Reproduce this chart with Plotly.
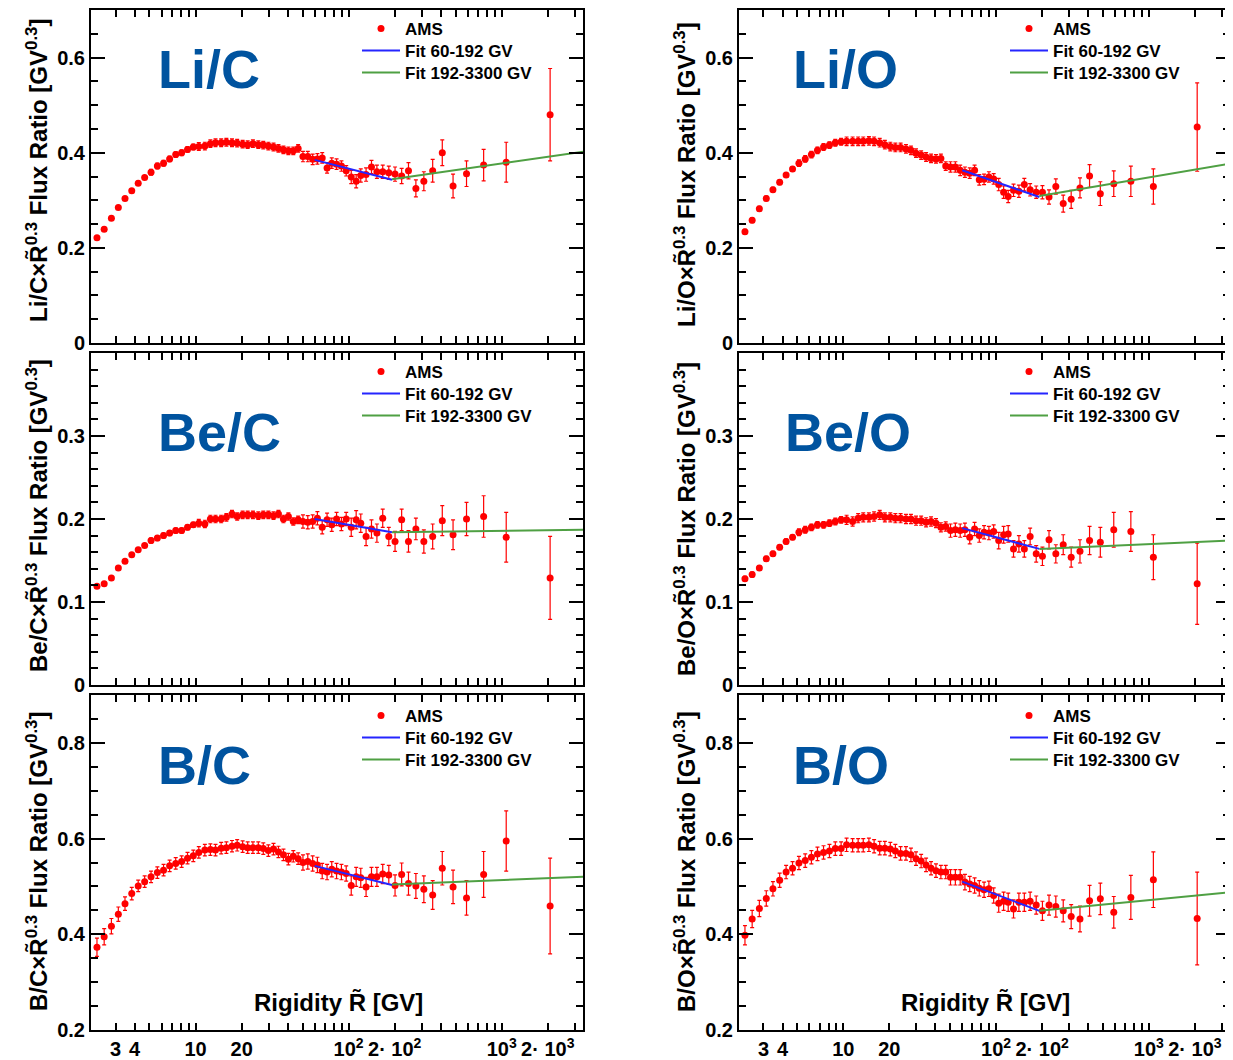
import plotly.graph_objects as go

W, H = 1233, 1060

# ---------------- data ----------------
rigidity = [2.27, 2.53, 2.82, 3.13, 3.46, 3.83, 4.22, 4.65, 5.12, 5.63,
            6.18, 6.77, 7.42, 8.11, 8.86, 9.67, 10.5, 11.5, 12.5, 13.5,
            14.7, 15.9, 17.3, 18.7, 20.3, 21.9, 23.7, 25.7, 27.7, 29.9,
            32.3, 34.8, 37.5, 40.4, 43.5, 46.8, 50.3, 54.1, 58.2, 62.5,
            67.2, 72.3, 77.6, 83.4, 89.7, 96.4, 104, 112, 120, 130,
            141, 153, 167, 183, 201, 222, 246, 275, 310, 354,
            409, 481, 589, 762, 1070, 2071]

li_c = [0.221, 0.239, 0.262, 0.285, 0.304, 0.320, 0.336, 0.348, 0.359, 0.372,
        0.378, 0.387, 0.396, 0.400, 0.407, 0.412, 0.413, 0.414, 0.419, 0.421,
        0.421, 0.422, 0.421, 0.420, 0.418, 0.417, 0.419, 0.417, 0.416, 0.414,
        0.412, 0.409, 0.406, 0.404, 0.404, 0.409, 0.392, 0.392, 0.386, 0.387,
        0.389, 0.368, 0.378, 0.376, 0.372, 0.362, 0.349, 0.340, 0.352, 0.354,
        0.370, 0.360, 0.360, 0.358, 0.355, 0.351, 0.362, 0.325, 0.340, 0.362,
        0.400, 0.330, 0.356, 0.374, 0.380, 0.480]
li_c_err = [0.004, 0.004, 0.004, 0.004, 0.004, 0.004, 0.004, 0.004, 0.006, 0.006,
            0.006, 0.006, 0.006, 0.006, 0.006, 0.006, 0.008, 0.008, 0.008, 0.008,
            0.008, 0.008, 0.008, 0.008, 0.008, 0.008, 0.008, 0.008, 0.008, 0.008,
            0.008, 0.008, 0.008, 0.008, 0.008, 0.008, 0.011, 0.011, 0.011, 0.011,
            0.011, 0.011, 0.011, 0.011, 0.011, 0.011, 0.014, 0.014, 0.014, 0.014,
            0.014, 0.014, 0.014, 0.014, 0.015, 0.016, 0.017, 0.018, 0.020, 0.024,
            0.027, 0.025, 0.027, 0.033, 0.042, 0.097]

be_c = [0.119, 0.122, 0.129, 0.141, 0.149, 0.157, 0.163, 0.168, 0.174, 0.177,
        0.180, 0.183, 0.186, 0.186, 0.190, 0.193, 0.195, 0.194, 0.200, 0.200,
        0.200, 0.202, 0.206, 0.203, 0.205, 0.205, 0.205, 0.204, 0.205, 0.205,
        0.204, 0.206, 0.200, 0.203, 0.197, 0.199, 0.197, 0.196, 0.197, 0.201,
        0.190, 0.199, 0.193, 0.200, 0.194, 0.200, 0.190, 0.199, 0.195, 0.179,
        0.188, 0.183, 0.201, 0.179, 0.173, 0.199, 0.173, 0.188, 0.173, 0.179,
        0.198, 0.181, 0.200, 0.203, 0.178, 0.129]
be_c_err = [0.002, 0.002, 0.002, 0.002, 0.002, 0.002, 0.002, 0.002, 0.003, 0.003,
            0.003, 0.003, 0.003, 0.003, 0.003, 0.003, 0.0045, 0.0045, 0.0045, 0.0045,
            0.0045, 0.0045, 0.0045, 0.0045, 0.0045, 0.0045, 0.0045, 0.0045, 0.0045, 0.0045,
            0.0045, 0.0045, 0.0045, 0.0045, 0.0045, 0.0045, 0.008, 0.008, 0.008, 0.008,
            0.008, 0.008, 0.008, 0.008, 0.008, 0.008, 0.011, 0.011, 0.011, 0.011,
            0.011, 0.011, 0.011, 0.011, 0.012, 0.013, 0.013, 0.013, 0.014, 0.015,
            0.018, 0.018, 0.020, 0.025, 0.030, 0.050]

b_c = [0.373, 0.395, 0.417, 0.442, 0.464, 0.485, 0.501, 0.510, 0.520, 0.529,
       0.534, 0.543, 0.548, 0.552, 0.559, 0.564, 0.571, 0.576, 0.577, 0.576,
       0.580, 0.581, 0.584, 0.586, 0.583, 0.581, 0.581, 0.581, 0.579, 0.575,
       0.578, 0.572, 0.566, 0.557, 0.563, 0.558, 0.550, 0.552, 0.548, 0.545,
       0.532, 0.530, 0.536, 0.532, 0.530, 0.527, 0.502, 0.520, 0.518, 0.499,
       0.520, 0.520, 0.526, 0.524, 0.502, 0.525, 0.506, 0.501, 0.494, 0.482,
       0.538, 0.499, 0.476, 0.525, 0.595, 0.459]
b_c_err = [0.019, 0.017, 0.016, 0.015, 0.014, 0.013, 0.012, 0.012, 0.012, 0.012,
           0.012, 0.012, 0.012, 0.012, 0.012, 0.012, 0.012, 0.012, 0.012, 0.012,
           0.012, 0.012, 0.012, 0.012, 0.012, 0.012, 0.012, 0.012, 0.012, 0.012,
           0.012, 0.012, 0.012, 0.012, 0.012, 0.012, 0.016, 0.016, 0.016, 0.016,
           0.016, 0.016, 0.016, 0.016, 0.016, 0.016, 0.020, 0.020, 0.020, 0.020,
           0.020, 0.020, 0.020, 0.020, 0.022, 0.024, 0.024, 0.026, 0.028, 0.030,
           0.035, 0.035, 0.036, 0.048, 0.063, 0.100]

li_o = [0.234, 0.258, 0.282, 0.304, 0.322, 0.338, 0.353, 0.366, 0.378, 0.387,
        0.396, 0.405, 0.412, 0.416, 0.421, 0.423, 0.424, 0.424, 0.424, 0.424,
        0.425, 0.424, 0.421, 0.417, 0.413, 0.411, 0.411, 0.408, 0.405, 0.399,
        0.395, 0.391, 0.388, 0.387, 0.388, 0.372, 0.370, 0.370, 0.363, 0.359,
        0.357, 0.363, 0.343, 0.344, 0.349, 0.345, 0.333, 0.317, 0.308, 0.321,
        0.319, 0.333, 0.322, 0.317, 0.317, 0.307, 0.329, 0.293, 0.302, 0.326,
        0.351, 0.314, 0.335, 0.340, 0.329, 0.454]
li_o_err = [0.005, 0.005, 0.005, 0.005, 0.005, 0.005, 0.005, 0.005, 0.007, 0.007,
            0.007, 0.007, 0.007, 0.007, 0.007, 0.007, 0.009, 0.009, 0.009, 0.009,
            0.009, 0.009, 0.009, 0.009, 0.009, 0.009, 0.009, 0.009, 0.009, 0.009,
            0.009, 0.009, 0.009, 0.009, 0.009, 0.009, 0.011, 0.011, 0.011, 0.011,
            0.011, 0.011, 0.011, 0.011, 0.011, 0.011, 0.013, 0.013, 0.013, 0.013,
            0.013, 0.013, 0.013, 0.013, 0.014, 0.015, 0.016, 0.018, 0.019, 0.021,
            0.024, 0.025, 0.027, 0.032, 0.037, 0.093]

be_o = [0.128, 0.133, 0.141, 0.152, 0.158, 0.166, 0.173, 0.178, 0.184, 0.187,
        0.190, 0.193, 0.193, 0.195, 0.197, 0.199, 0.199, 0.197, 0.201, 0.202,
        0.202, 0.203, 0.205, 0.202, 0.202, 0.201, 0.201, 0.200, 0.200, 0.198,
        0.198, 0.196, 0.197, 0.195, 0.190, 0.191, 0.186, 0.187, 0.186, 0.187,
        0.178, 0.188, 0.180, 0.184, 0.183, 0.185, 0.174, 0.181, 0.182, 0.164,
        0.170, 0.164, 0.179, 0.158, 0.155, 0.175, 0.158, 0.169, 0.154, 0.161,
        0.174, 0.172, 0.187, 0.185, 0.154, 0.122]
be_o_err = [0.003, 0.003, 0.003, 0.003, 0.003, 0.003, 0.003, 0.003, 0.004, 0.004,
            0.004, 0.004, 0.004, 0.004, 0.004, 0.004, 0.0055, 0.0055, 0.0055, 0.0055,
            0.0055, 0.0055, 0.0055, 0.0055, 0.0055, 0.0055, 0.0055, 0.0055, 0.0055, 0.0055,
            0.0055, 0.0055, 0.0055, 0.0055, 0.0055, 0.0055, 0.008, 0.008, 0.008, 0.008,
            0.008, 0.008, 0.008, 0.008, 0.008, 0.008, 0.010, 0.010, 0.010, 0.010,
            0.010, 0.010, 0.010, 0.010, 0.011, 0.011, 0.011, 0.012, 0.012, 0.014,
            0.017, 0.018, 0.021, 0.024, 0.027, 0.049]

b_o = [0.398, 0.432, 0.454, 0.475, 0.495, 0.513, 0.530, 0.538, 0.549, 0.554,
       0.561, 0.568, 0.571, 0.574, 0.579, 0.579, 0.587, 0.586, 0.586, 0.586,
       0.587, 0.584, 0.580, 0.580, 0.578, 0.574, 0.569, 0.569, 0.566, 0.558,
       0.553, 0.545, 0.538, 0.533, 0.530, 0.530, 0.519, 0.519, 0.519, 0.509,
       0.505, 0.502, 0.496, 0.493, 0.495, 0.481, 0.465, 0.469, 0.467, 0.453,
       0.467, 0.467, 0.469, 0.461, 0.449, 0.461, 0.458, 0.449, 0.437, 0.432,
       0.470, 0.474, 0.446, 0.477, 0.514, 0.433]
b_o_err = [0.020, 0.018, 0.017, 0.016, 0.015, 0.015, 0.014, 0.014, 0.014, 0.014,
           0.014, 0.014, 0.014, 0.014, 0.014, 0.014, 0.014, 0.014, 0.014, 0.014,
           0.014, 0.014, 0.014, 0.014, 0.014, 0.014, 0.014, 0.014, 0.014, 0.014,
           0.014, 0.014, 0.014, 0.014, 0.014, 0.014, 0.016, 0.016, 0.016, 0.016,
           0.016, 0.016, 0.016, 0.016, 0.016, 0.016, 0.019, 0.019, 0.019, 0.019,
           0.019, 0.019, 0.019, 0.019, 0.020, 0.021, 0.022, 0.023, 0.025, 0.027,
           0.032, 0.033, 0.033, 0.046, 0.058, 0.097]

fit_low_R = [60, 192]
fit_high_R = [192, 3400]
li_c_fit_low, li_c_fit_high = [0.385, 0.343], [0.344, 0.402]
be_c_fit_low, be_c_fit_high = [0.200, 0.184], [0.184, 0.187]
b_c_fit_low, b_c_fit_high = [0.543, 0.503], [0.504, 0.520]
li_o_fit_low, li_o_fit_high = [0.363, 0.307], [0.309, 0.377]
be_o_fit_low, be_o_fit_high = [0.189, 0.164], [0.164, 0.174]
b_o_fit_low, b_o_fit_high = [0.510, 0.449], [0.449, 0.488]

panel_names = ["Li/C", "Be/C", "B/C", "Li/O", "Be/O", "B/O"]
panel_values = [li_c, be_c, b_c, li_o, be_o, b_o]
panel_errors = [li_c_err, be_c_err, b_c_err, li_o_err, be_o_err, b_o_err]
panel_fit_low = [li_c_fit_low, be_c_fit_low, b_c_fit_low, li_o_fit_low, be_o_fit_low, b_o_fit_low]
panel_fit_high = [li_c_fit_high, be_c_fit_high, b_c_fit_high, li_o_fit_high, be_o_fit_high, b_o_fit_high]
y_ranges = [[0, 0.7], [0, 0.4], [0.2, 0.9], [0, 0.7], [0, 0.4], [0.2, 0.9]]
y_ticks = [[0, 0.2, 0.4, 0.6], [0, 0.1, 0.2, 0.3], [0.2, 0.4, 0.6, 0.8],
           [0, 0.2, 0.4, 0.6], [0, 0.1, 0.2, 0.3], [0.2, 0.4, 0.6, 0.8]]
y_ticktext = [["0", "0.2", "0.4", "0.6"], ["0", "0.1", "0.2", "0.3"], ["0.2", "0.4", "0.6", "0.8"],
              ["0", "0.2", "0.4", "0.6"], ["0", "0.1", "0.2", "0.3"], ["0.2", "0.4", "0.6", "0.8"]]
y_minor = [0.05, 0.02, 0.05, 0.05, 0.02, 0.05]

x_label_vals = [3, 4, 10, 20, 100, 200, 1000, 2000]
x_label_text = ["3", "4", "10", "20", "10<sup>2</sup>", "2· 10<sup>2</sup>",
                "10<sup>3</sup>", "2· 10<sup>3</sup>"]
x_decades = [10, 100, 1000]
legend_names = ["AMS", "Fit 60-192 GV", "Fit 192-3300 GV"]

# ---------------- layout geometry (screen pixels of the reference) ----------------
OFF = 8  # page body margin of the browser
col_px = [(91, 583), (739, 1230)]
row_px = [(10, 343), (353, 685), (695, 1030)]
label_pos = [(156, 69), (156, 432), (156, 765), (791, 69), (783, 432), (791, 765)]
ytitle_pos = [(37, 171), (37, 516), (37, 862), (685, 175), (685, 519), (685, 862)]
legend_left = [357, 1005]
legend_rows = [[29, 51, 73], [372, 394, 416], [716, 738, 760]]
rig_title_pos = [(338, 1002), (985, 1002)]


def fx(px):
    return (px - OFF) / W


def fy(py):
    return 1 - (py - OFF) / H


FONT = "Liberation Sans"
RED, BLUE, GREEN = "#ff0000", "#2525ff", "#4fa043"
NAVY = "#00539f"
XRANGE = [0.317, 3.531]

# short ticks at every 2..9 multiple not already carrying a label
x_minor_vals = []
for dec in [1, 10, 100, 1000]:
    for m in range(2, 10):
        v = m * dec
        if v <= 3000 and v not in x_label_vals:
            x_minor_vals.append(v)

fig = go.Figure()
layout = dict(width=W, height=H, margin=dict(l=0, r=0, t=0, b=0, autoexpand=False),
              showlegend=True,
              paper_bgcolor="white", plot_bgcolor="white", annotations=[])

for i in range(6):
    k = i + 1
    col, row = i // 3, i % 3
    xa = "x" if k == 1 else f"x{k}"
    ya = "y" if k == 1 else f"y{k}"
    lgs = [f"legend{3 * i + j + 1}" if 3 * i + j > 0 else "legend" for j in range(3)]
    fig.add_trace(go.Scatter(
        x=rigidity, y=panel_values[i], mode="markers", name=legend_names[0],
        marker=dict(color=RED, size=7), showlegend=True,
        error_y=dict(type="data", array=panel_errors[i], color=RED, thickness=1.2, width=2),
        xaxis=xa, yaxis=ya, legend=lgs[0]))
    fig.add_trace(go.Scatter(
        x=fit_low_R, y=panel_fit_low[i], mode="lines", name=legend_names[1], showlegend=True,
        line=dict(color=BLUE, width=2), xaxis=xa, yaxis=ya, legend=lgs[1]))
    fig.add_trace(go.Scatter(
        x=fit_high_R, y=panel_fit_high[i], mode="lines", name=legend_names[2], showlegend=True,
        line=dict(color=GREEN, width=2), xaxis=xa, yaxis=ya, legend=lgs[2]))

    x0, x1 = col_px[col]
    y0, y1 = row_px[row]
    tickfont = dict(family=FONT, size=20, color="black", weight="bold")
    layout["xaxis" if k == 1 else f"xaxis{k}"] = dict(
        type="log", range=XRANGE, domain=[fx(x0), fx(x1)], anchor=ya,
        showline=True, linecolor="black", linewidth=2, mirror="allticks",
        ticks="inside", ticklen=7, tickwidth=1.5, tickcolor="black",
        tickmode="array", tickvals=x_label_vals, ticktext=x_label_text,
        showticklabels=(row == 2), tickfont=tickfont,
        showgrid=False, zeroline=False, automargin=False,
        minor=dict(tickmode="array", tickvals=x_minor_vals, ticks="inside",
                   ticklen=7, tickwidth=1.5, tickcolor="black", showgrid=False))
    # overlay axis carrying the long decade ticks
    layout[f"xaxis{k + 6}"] = dict(
        type="log", range=XRANGE, overlaying=xa, anchor=ya, side="bottom",
        showline=True, linecolor="black", linewidth=2, mirror="allticks",
        ticks="inside", ticklen=14, tickwidth=1.5, tickcolor="black",
        tickmode="array", tickvals=x_decades, showticklabels=False,
        showgrid=False, zeroline=False, automargin=False)
    layout["yaxis" if k == 1 else f"yaxis{k}"] = dict(
        range=y_ranges[i], domain=[fy(y1), fy(y0)], anchor=xa,
        showline=True, linecolor="black", linewidth=2, mirror="allticks",
        ticks="inside", ticklen=14, tickwidth=1.5, tickcolor="black",
        tickmode="array", tickvals=y_ticks[i], ticktext=y_ticktext[i], tickfont=tickfont,
        showgrid=False, zeroline=False, automargin=False,
        minor=dict(tick0=0, dtick=y_minor[i], ticks="inside", ticklen=7,
                   tickwidth=1.5, tickcolor="black", showgrid=False))
    for j in range(3):
        layout[lgs[j]] = dict(x=fx(legend_left[col]), y=fy(legend_rows[row][j]),
                              xanchor="left", yanchor="middle", visible=True,
                              bgcolor="rgba(0,0,0,0)", borderwidth=0, itemwidth=38,
                              font=dict(family=FONT, size=17, color="black", weight="bold"))

    px, py = label_pos[i]
    layout["annotations"].append(dict(
        x=fx(px), y=fy(py), xref="paper", yref="paper", xanchor="left", yanchor="middle",
        text="<b>" + panel_names[i] + "</b>", showarrow=False,
        font=dict(family=FONT, size=54, color=NAVY)))
    tx, ty = ytitle_pos[i]
    layout["annotations"].append(dict(
        x=fx(tx), y=fy(ty), xref="paper", yref="paper", xanchor="center", yanchor="middle",
        textangle=-90, showarrow=False,
        text="<b>" + panel_names[i] + "×R̃<sup>0.3</sup> Flux Ratio [GV<sup>0.3</sup>]</b>",
        font=dict(family=FONT, size=24, color="black")))
    if row == 2:
        rx, ry = rig_title_pos[col]
        layout["annotations"].append(dict(
            x=fx(rx), y=fy(ry), xref="paper", yref="paper",
            xanchor="center", yanchor="middle", showarrow=False,
            text="<b>Rigidity R̃ [GV]</b>",
            font=dict(family=FONT, size=24, color="black")))

fig.update_layout(**layout)
fig.write_html("out.html")
